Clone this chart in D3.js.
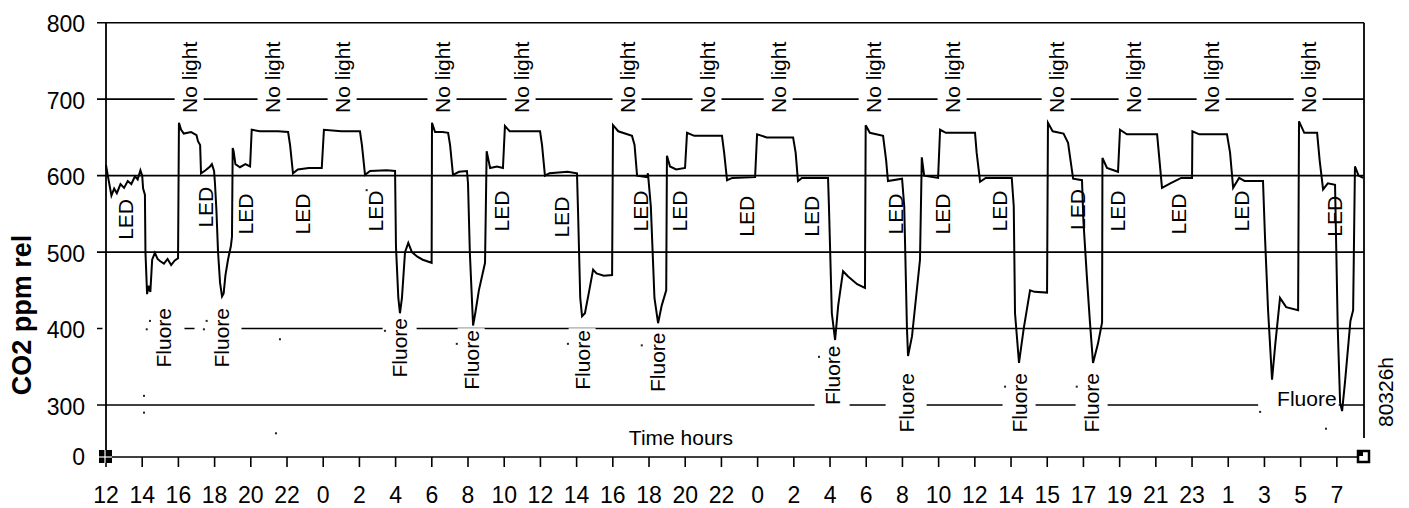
<!DOCTYPE html>
<html>
<head>
<meta charset="utf-8">
<script src="https://cdn.jsdelivr.net/npm/d3@7"></script>
<style>
  html, body { margin: 0; padding: 0; background: #fff; }
  svg { display: block; }
  text { font-family: "Liberation Sans", Arial, sans-serif; fill: #000; }
</style>
</head>
<body>
<svg id="chart" width="1409" height="508"></svg>
<script>
// ---------------- data ----------------
const xTickHours = d3.range(0, 70, 2);
const xTickLabels = ["12","14","16","18","20","22","0","2","4","6","8","10","12","14","16","18","20","22","0","2","4","6","8","10","12","14","15","17","19","21","23","1","3","5","7"];
const yGridValues = [300, 400, 500, 600, 700, 800];
const yTickValues = [232, 300, 400, 500, 600, 700, 800];
const yTickLabels = ["0", "300", "400", "500", "600", "700", "800"];
const hourMax = 69.5;
const ppmMin = 232, ppmMax = 800;

// CO2 trace [hour, ppm]
const co2 = [
  [0,614],[0.1,600],[0.3,574],[0.45,583],[0.6,577],[0.8,589],[1.0,584],[1.2,593],[1.4,589],[1.6,599],[1.75,595],[1.9,607],[2.0,600],[2.05,583],[2.15,575],
  [2.18,500],[2.27,445],[2.35,456],[2.45,448],[2.55,490],[2.7,499],[2.85,491],[3.0,488],[3.2,485],[3.4,491],[3.6,483],[3.8,489],[3.98,492],
  [4.03,669],[4.15,660],[4.3,655],[4.7,657],[5.0,653],[5.08,645],[5.2,640],[5.25,603],[5.5,607],[5.75,612],[5.85,615],[5.97,606],
  [6.02,590],[6.1,555],[6.19,500],[6.3,460],[6.41,442],[6.5,446],[6.6,470],[6.74,490],[6.9,508],[6.96,520],
  [7.0,636],[7.05,632],[7.15,615],[7.4,611],[7.7,615],[7.96,612],
  [8.05,660],[8.5,658],[9.5,658],[10.06,657],[10.17,640],[10.33,603],[10.6,608],[11.2,610],[11.92,610],
  [12.04,660],[13,658],[14.03,658],[14.14,640],[14.31,601],[14.59,606],[15.5,607],[15.97,606],
  [16.02,507],[16.15,440],[16.24,420],[16.35,440],[16.52,500],[16.7,512],[16.9,500],[17.2,494],[17.5,490],[17.99,486],
  [18.01,669],[18.18,657],[18.6,657],[18.9,656],[19.01,640],[19.17,601],[19.5,605],[19.94,606],
  [20.0,590],[20.1,500],[20.28,404],[20.4,420],[20.6,450],[20.94,486],
  [21.03,632],[21.22,610],[21.6,612],[21.93,610],
  [22.04,665],[22.3,658],[23.98,658],[24.09,640],[24.25,600],[24.5,603],[25.5,605],[26.02,603],
  [26.08,552],[26.2,440],[26.3,416],[26.46,420],[26.7,450],[26.91,477],[27.1,472],[27.5,469],[27.96,470],
  [28.01,666],[28.3,658],[29.06,652],[29.2,640],[29.34,600],[29.89,598],[29.94,603],
  [30.1,560],[30.3,440],[30.5,407],[30.7,430],[30.95,450],
  [30.99,626],[31.16,612],[31.5,608],[31.99,610],
  [32.1,656],[32.5,652],[34.03,652],[34.15,630],[34.31,594],[34.6,597],[35.86,598],
  [35.97,654],[36.5,650],[37.96,650],[38.1,630],[38.23,593],[38.45,597],[39.89,597],
  [39.94,560],[40.1,420],[40.28,385],[40.45,430],[40.72,475],[41.0,468],[41.5,458],[41.93,453],
  [41.97,666],[42.2,656],[42.93,652],[43.1,620],[43.2,593],[43.98,596],
  [44.1,560],[44.25,400],[44.31,364],[44.53,390],[44.97,490],
  [45.07,624],[45.2,600],[45.97,597],
  [46.08,660],[46.4,656],[48.01,656],[48.1,630],[48.29,592],[48.6,597],[50.04,597],
  [50.15,560],[50.22,420],[50.44,355],[50.7,400],[51.05,450],[51.3,448],[51.99,447],
  [52.04,669],[52.3,658],[52.9,655],[53.15,643],[53.43,596],[53.92,594],
  [54.0,540],[54.2,464],[54.36,408],[54.53,355],[54.8,380],[55.03,408],
  [55.05,623],[55.3,610],[55.91,605],
  [56.02,660],[56.4,654],[58.07,654],[58.34,584],[58.8,590],[59.4,597],[60.0,597],
  [60.02,658],[60.4,654],[61.93,654],[62.1,630],[62.27,584],[62.6,597],[62.9,593],[63.92,593],
  [64.03,520],[64.2,424],[64.42,333],[64.6,380],[64.86,440],[65.2,428],[65.86,424],
  [65.91,671],[66.2,656],[66.91,656],[67.05,620],[67.24,582],[67.5,590],[67.9,588],
  [68.05,400],[68.18,303],[68.29,292],[68.45,330],[68.75,410],[68.9,424],
  [69.0,612],[69.2,600],[69.45,597]
];

// annotations [hour, ppm at text start]
const noLightHours = [4.59, 9.17, 13.04, 18.56, 22.93, 28.78, 33.20, 37.13, 42.38, 46.74, 52.49, 56.74, 61.05, 66.41];
const noLightPpm = 682;
const ledLabels = [[1.10,516],[5.47,532],[7.68,523],[10.88,523],[14.86,527],[21.82,527],[25.14,519],[29.50,527],[31.66,527],[35.36,520],[38.95,520],[43.59,523],[46.19,523],[49.34,527],[53.65,529],[55.86,527],[59.23,523],[62.71,527],[67.85,520]];
const fluoreLabels = [[3.20,349],[6.35,349],[16.19,336],[20.17,320],[26.30,320],[30.44,317],[40.11,300],[44.20,264],[50.44,264],[54.42,264]];
const fluoreFlat = [64.70, 298.7];
const specks = [[2.43,410],[2.25,399],[5.56,410],[5.41,399],[9.61,386],[15.41,397],[19.38,380],[2.10,312],[2.10,290],[9.39,263],[25.52,380],[29.6,378],[39.39,363],[49.67,324],[53.63,324],[63.76,291],[67.4,269],[14.4,581]];

// ---------------- drawing ----------------
const svg = d3.select("#chart");
const x = d3.scaleLinear().domain([0, hourMax]).range([106, 1364]);
const y = d3.scaleLinear().domain([ppmMin, ppmMax]).range([457, 22.7]);
const X0 = x(0), X1 = x(hourMax), Y0 = y(ppmMin), Ytop = y(ppmMax);

// gridlines
svg.append("g").selectAll("line").data(yGridValues).join("line")
  .attr("x1", X0 - 9).attr("x2", X1)
  .attr("y1", d => y(d)).attr("y2", d => y(d))
  .attr("stroke", "#000").attr("stroke-width", 1.6);

// label layer (white boxes hide gridlines)
const lab = svg.append("g");
function vLabel(h, ppm, txt, padL, padR) {
  const g = lab.append("g").attr("transform", `translate(${x(h)},${y(ppm)}) rotate(-90)`);
  const r = g.append("rect").attr("fill", "#fff");
  const t = g.append("text").attr("x", 0).attr("y", 0).attr("dy", "0.36em")
    .attr("font-size", 21).text(txt);
  const b = t.node().getBBox();
  r.attr("x", b.x - 2).attr("width", b.width + 4)
   .attr("y", b.y - padL).attr("height", b.height + padL + padR);
}
noLightHours.forEach(h => vLabel(h, noLightPpm, "No light", 3, 3));
ledLabels.forEach(d => vLabel(d[0], d[1], "LED", 0, 0));
const fluPad = {0: [50, 9], 1: [15, 9], 2: [5, 6], 6: [6, 6], 7: [9, 9], 8: [5, 5], 9: [4, 5]};
fluoreLabels.forEach((d, i) => {
  const p = fluPad[i] || [2, 2];
  vLabel(d[0], d[1], "Fluore", p[0], p[1]);
});
{
  const t0 = lab.append("rect").attr("fill", "#fff");
  const t = lab.append("text").attr("x", x(fluoreFlat[0])).attr("y", y(fluoreFlat[1]))
    .attr("font-size", 21).text("Fluore");
  const b = t.node().getBBox();
  t0.attr("x", b.x - 19).attr("y", b.y).attr("width", b.width + 21).attr("height", b.height + 2);
}

// stray marks
svg.append("g").selectAll("rect").data(specks).join("rect")
  .attr("x", d => x(d[0]) - 1).attr("y", d => y(d[1]) - 1)
  .attr("width", 2).attr("height", 2).attr("fill", "#222");

// axes frame
svg.append("line").attr("x1", X0).attr("x2", X0).attr("y1", Ytop).attr("y2", Y0)
  .attr("stroke", "#000").attr("stroke-width", 1.8);
svg.append("line").attr("x1", X1).attr("x2", X1).attr("y1", Ytop).attr("y2", 438)
  .attr("stroke", "#000").attr("stroke-width", 1.8);
svg.append("line").attr("x1", X0).attr("x2", X1 - 7).attr("y1", Y0).attr("y2", Y0)
  .attr("stroke", "#000").attr("stroke-width", 1.6);

// x ticks & labels
svg.append("g").selectAll("line").data(xTickHours).join("line")
  .attr("x1", d => x(d)).attr("x2", d => x(d)).attr("y1", Y0).attr("y2", Y0 + 10)
  .attr("stroke", "#000").attr("stroke-width", 1.6);
svg.append("g").selectAll("text").data(xTickHours).join("text")
  .attr("x", d => x(d)).attr("y", 503).attr("text-anchor", "middle")
  .attr("font-size", 23).text((d, i) => xTickLabels[i]);

// y labels
svg.append("g").selectAll("text").data(yTickValues).join("text")
  .attr("x", 85).attr("y", (d, i) => y(d) + (i === 0 ? 8 : 9.5)).attr("text-anchor", "end")
  .attr("font-size", 23).text((d, i) => yTickLabels[i]);

// corner handles
svg.append("rect").attr("x", X0 - 7).attr("y", Y0 - 7).attr("width", 13).attr("height", 13).attr("fill", "#000");
svg.append("line").attr("x1", X0 - 7).attr("x2", X0 + 6).attr("y1", Y0).attr("y2", Y0).attr("stroke", "#fff").attr("stroke-width", 1.2);
svg.append("line").attr("x1", X0 - 1).attr("x2", X0 - 1).attr("y1", Y0 - 7).attr("y2", Y0 + 6).attr("stroke", "#fff").attr("stroke-width", 1.2);
svg.append("rect").attr("x", X1 - 6).attr("y", Y0 - 6).attr("width", 11).attr("height", 11)
  .attr("fill", "#fff").attr("stroke", "#000").attr("stroke-width", 2.5);
svg.append("rect").attr("x", X1 - 7).attr("y", Y0 - 7).attr("width", 6).attr("height", 6).attr("fill", "#000");

// data line
svg.append("path").datum(co2)
  .attr("d", d3.line().x(d => x(d[0])).y(d => y(d[1])))
  .attr("fill", "none").attr("stroke", "#000").attr("stroke-width", 2);

// titles
svg.append("text").attr("transform", `translate(31,315) rotate(-90)`)
  .attr("text-anchor", "middle").attr("font-size", 27).attr("font-weight", "bold").text("CO2 ppm rel");
svg.append("text").attr("x", 681).attr("y", 445).attr("text-anchor", "middle")
  .attr("font-size", 21).text("Time hours");
svg.append("text").attr("transform", `translate(1393,392) rotate(-90)`)
  .attr("text-anchor", "middle").attr("font-size", 21).text("80326h");
</script>
</body>
</html>
